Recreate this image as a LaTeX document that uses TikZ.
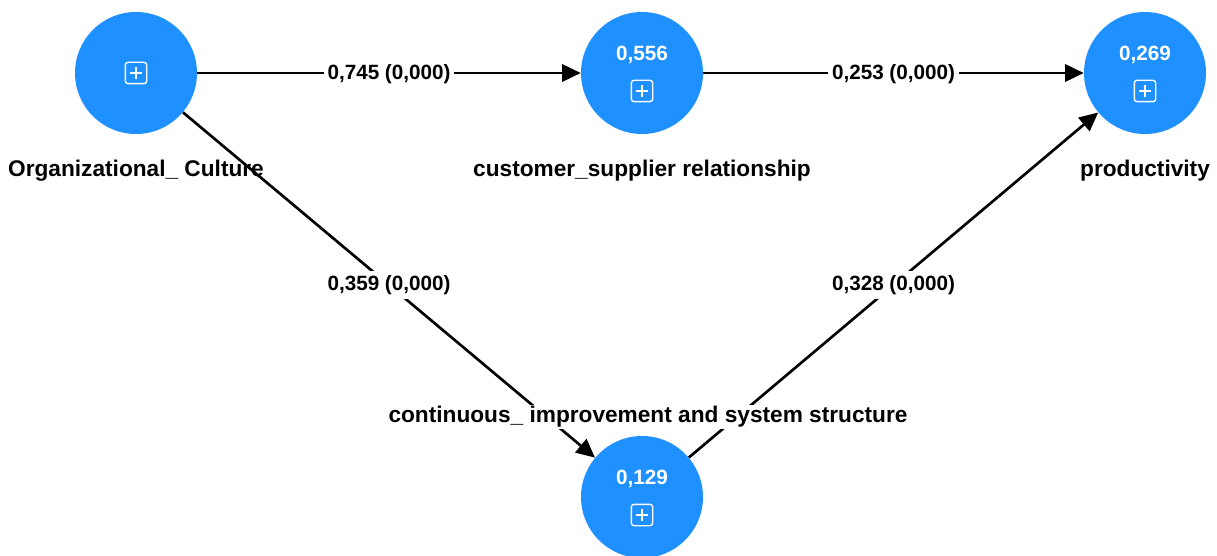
\documentclass[tikz,border=0pt]{standalone}
\usepackage{fontspec}
\setmainfont{Liberation Sans}
\usetikzlibrary{arrows.meta,positioning}
\definecolor{construct}{RGB}{30,144,255}

\begin{document}
\begin{tikzpicture}[x=0.75pt,y=-0.75pt,
  lv/.style={circle, fill=construct, minimum size=91.5pt, inner sep=0pt},
  val/.style={font=\fontsize{15.5}{18}\selectfont\bfseries, text=white},
  expand/.style={draw=white, line width=1pt, rounded corners=2pt,
                 minimum size=16pt, inner sep=0pt,
                 path picture={\draw[white, line width=1pt, sharp corners]
                   ([xshift=3.8pt]path picture bounding box.west) --
                   ([xshift=-3.8pt]path picture bounding box.east)
                   ([yshift=-3.8pt]path picture bounding box.north) --
                   ([yshift=3.8pt]path picture bounding box.south);}},
  lbl/.style={font=\fontsize{17}{20}\selectfont\bfseries, inner sep=1pt},
  coef/.style={fill=white, font=\fontsize{15.5}{18}\selectfont\bfseries, inner sep=3pt},
  link/.style={-{Triangle[length=14pt,width=13pt]}, line width=2pt}
]
  \useasboundingbox (0,0) rectangle (1217,556);

  % -- constructs --
  \node[lv] (oc) at (136,73) {};
  \node[lv] (cs) at (642,73) {};
  \node[lv] (pr) at (1145,73) {};
  \node[lv] (ci) at (642,497) {};

  % -- R2 values and expand icons --
  \node[expand] (ocx) at (oc.center) {};
  \node[val] (csv) at ([yshift=13.5pt]cs.center) {0,556};
  \node[expand] (csx) at ([yshift=-13.5pt]cs.center) {};
  \node[val] (prv) at ([yshift=13.5pt]pr.center) {0,269};
  \node[expand] (prx) at ([yshift=-13.5pt]pr.center) {};
  \node[val] (civ) at ([yshift=13.5pt]ci.center) {0,129};
  \node[expand] (cix) at ([yshift=-13.5pt]ci.center) {};

  % -- paths --
  \draw[link] (oc) -- node[coef, yshift=-1pt]{0,745 (0,000)} (cs);
  \draw[link] (cs) -- node[coef, yshift=-1pt]{0,253 (0,000)} (pr);
  \draw[link] (oc) -- node[coef]{0,359 (0,000)} (ci);
  \draw[link] (ci) -- node[coef]{0,328 (0,000)} (pr);

  % -- names --
  \node[lbl, below=32pt of oc, anchor=base] (ocl) {Organizational\_ Culture};
  \node[lbl, below=32pt of cs, anchor=base] (csl) {customer\_supplier relationship};
  \node[lbl, below=32pt of pr, anchor=base] (prl) {productivity};
  \node[lbl, fill=white, above=9.75pt of ci, anchor=base, xshift=4.5pt] (cil)
    {continuous\_ improvement and system structure};
\end{tikzpicture}
\end{document}
